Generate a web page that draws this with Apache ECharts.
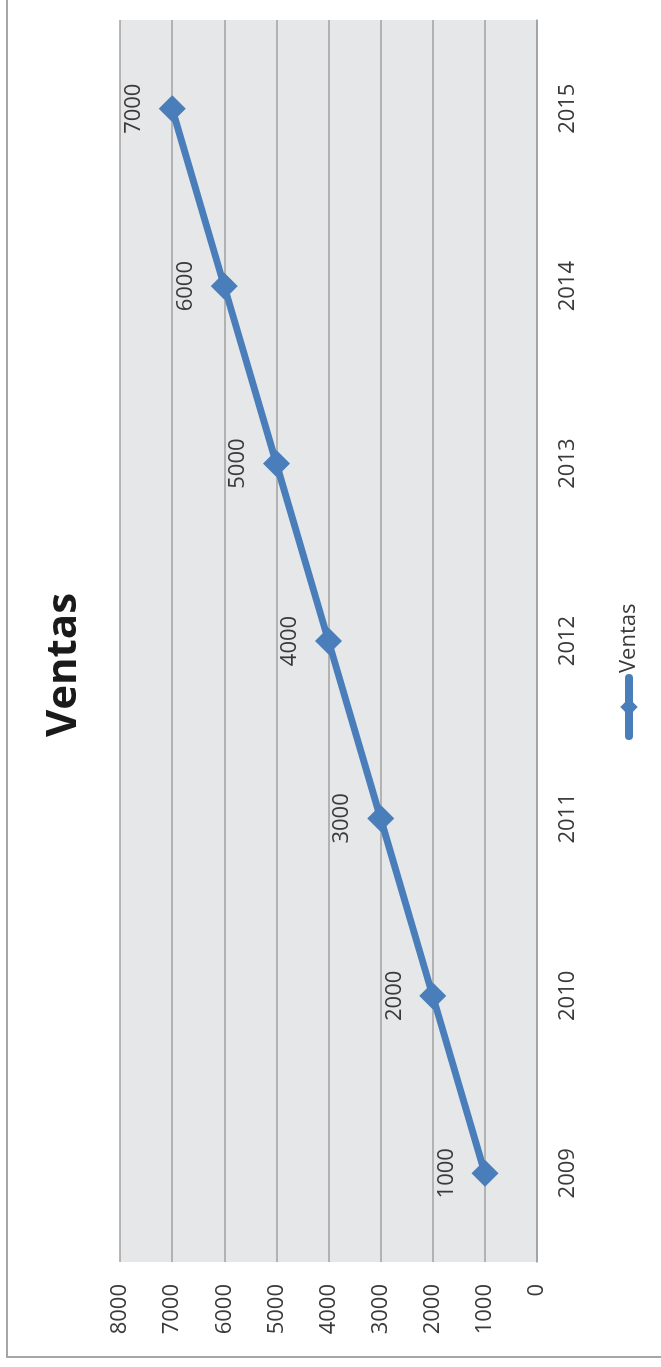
<!DOCTYPE html>
<html>
<head>
<meta charset="utf-8">
<title>Ventas</title>
<script src="https://cdn.jsdelivr.net/npm/echarts@6/dist/echarts.min.js"></script>
<style>
  html, body {
    margin: 0;
    padding: 0;
    background: #ffffff;
    overflow: hidden;
  }
  /* the chart is drawn landscape and turned a quarter left */
  #chart {
    position: absolute;
    left: 0;
    top: 0;
    width: 1367px;
    height: 661px;
    transform-origin: 0 0;
    transform: translate(0, 1367px) rotate(-90deg);
  }
</style>
</head>
<body>
<div id="chart"></div>
<script>
const years = ["2009", "2010", "2011", "2012", "2013", "2014", "2015"];
const ventas = [1000, 2000, 3000, 4000, 5000, 6000, 7000];
const seriesName = "Ventas";

const blue = "#4a7ebb";
const textColor = "#3a3a3a";
const font = "'Open Sans', 'Liberation Sans', sans-serif";

const chart = echarts.init(document.getElementById("chart"));

const option = {
  animation: false,
  backgroundColor: "#ffffff",
  textStyle: { fontFamily: font },
  title: {
    text: seriesName,
    left: 697,
    textAlign: "center",
    top: 38,
    textStyle: {
      fontFamily: font,
      fontSize: 42,
      fontWeight: "bold",
      color: "#1a1a1a",
    },
  },
  legend: {
    data: [seriesName],
    left: 622,
    top: 613,
    itemWidth: 58,
    itemHeight: 22,
    itemGap: 4,
    lineStyle: { width: 8, cap: "round", color: blue },
    itemStyle: { color: blue },
    textStyle: { fontFamily: font, fontSize: 22, color: textColor },
  },
  grid: {
    left: 105,
    right: 20,
    top: 120,
    bottom: 124,
    show: true,
    backgroundColor: "#e6e7e9",
    borderWidth: 0,
  },
  xAxis: {
    type: "category",
    data: years,
    boundaryGap: true,
    axisLine: { show: true, lineStyle: { color: "#a0a0a0", width: 1.5 } },
    axisTick: { show: false },
    axisLabel: {
      margin: 20,
      fontFamily: font,
      fontSize: 22,
      color: textColor,
    },
  },
  yAxis: {
    type: "value",
    min: 0,
    max: 8000,
    interval: 1000,
    axisLine: { show: false },
    axisTick: { show: false },
    axisLabel: {
      margin: 22,
      fontFamily: font,
      fontSize: 22,
      color: textColor,
      formatter: (v) => String(v),
    },
    splitLine: { show: true, lineStyle: { color: "#a0a0a0", width: 1.5 } },
  },
  series: [
    {
      name: seriesName,
      type: "line",
      data: ventas,
      symbol: "diamond",
      symbolSize: 27,
      showAllSymbol: true,
      lineStyle: { color: blue, width: 7 },
      itemStyle: { color: blue },
      label: {
        show: true,
        position: "top",
        distance: 14,
        fontFamily: font,
        fontSize: 22,
        color: textColor,
      },
    },
  ],
  graphic: [
    {
      type: "rect",
      shape: { x: 10, y: 7, width: 2000, height: 2000 },
      style: { fill: "none", stroke: "#a6a6a6", lineWidth: 2 },
      silent: true,
    },
  ],
};

chart.setOption(option);
</script>
</body>
</html>
